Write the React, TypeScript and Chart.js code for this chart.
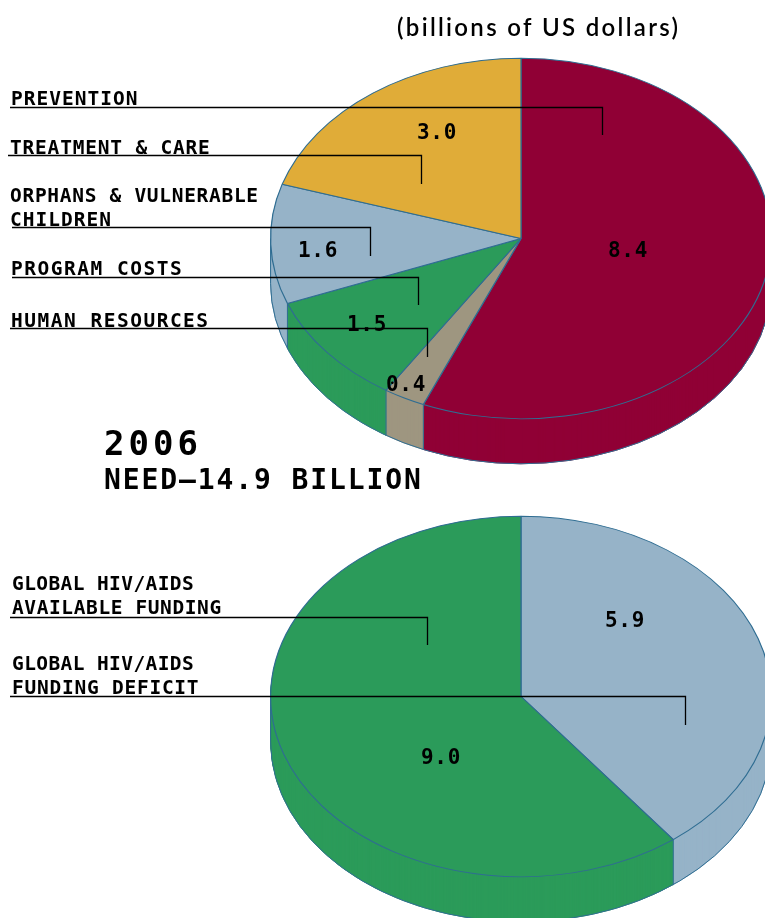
import React, { useEffect, useRef } from "react";
import { Chart, registerables } from "chart.js";

Chart.register(...registerables);

// ---- data ----
const needCategories = ["Prevention", "Human resources", "Program costs", "Orphans & vulnerable children", "Treatment & care"];
const needValues = [8.4, 0.4, 1.5, 1.6, 3.0];
const needLabels = ["8.4", "0.4", "1.5", "1.6", "3.0"];
const fundingCategories = ["Global HIV/AIDS funding deficit", "Global HIV/AIDS available funding"];
const fundingValues = [5.9, 9.0];
const fundingLabels = ["5.9", "9.0"];

// ---- styles ----
const needColors = ["#900035", "#9E9680", "#2B9B5A", "#96B3C8", "#E0AC38"];
const fundingColors = ["#96B3C8", "#2B9B5A"];
const EDGE = "#2F6D92";
const SQUASH = 180 / 250;
const DEPTH = 45;
const MONO = '"DejaVu Sans Mono"';

type Txt = { t: string; x: number; y: number; font: string; sp: number };
type Leader = [number, number, number, number];

const labelFont = `bold 19.5px ${MONO}`;
const valueFont = `bold 21px ${MONO}`;

const needTexts: Txt[] = [
  { t: "(billions of US dollars)", x: 397, y: 36, font: "600 24px Lato", sp: 2.3 },
  { t: "PREVENTION", x: 11, y: 105, font: labelFont, sp: 1.0 },
  { t: "TREATMENT & CARE", x: 10, y: 154, font: labelFont, sp: 0.8 },
  { t: "ORPHANS & VULNERABLE", x: 10, y: 202, font: labelFont, sp: 0.7 },
  { t: "CHILDREN", x: 10, y: 226, font: labelFont, sp: 1.0 },
  { t: "PROGRAM COSTS", x: 11, y: 275, font: labelFont, sp: 1.5 },
  { t: "HUMAN RESOURCES", x: 11, y: 327, font: labelFont, sp: 1.5 },
  { t: "2006", x: 104, y: 455, font: `bold 34px ${MONO}`, sp: 4 },
  { t: "NEED\u201414.9 BILLION", x: 104, y: 489, font: `bold 28px ${MONO}`, sp: 1.9 },
];
const needValuePos = [[608, 257], [386, 391], [347, 331], [298, 257], [417, 139]];
const needLeaders: Leader[] = [
  [10, 107.5, 602, 135],
  [8, 155.5, 421, 184],
  [12, 227.5, 370, 256],
  [12, 277.5, 418, 305],
  [10, 328.5, 427, 357],
];

const fundingTexts: Txt[] = [
  { t: "GLOBAL HIV/AIDS", x: 12, y: 590, font: labelFont, sp: 0.4 },
  { t: "AVAILABLE FUNDING", x: 12, y: 614, font: labelFont, sp: 0.6 },
  { t: "GLOBAL HIV/AIDS", x: 12, y: 670, font: labelFont, sp: 0.4 },
  { t: "FUNDING DEFICIT", x: 12, y: 694, font: labelFont, sp: 0.75 },
];
const fundingValuePos = [[605, 627], [421, 764]];
const fundingLeaders: Leader[] = [
  [10, 617.5, 427, 645],
  [10, 696.5, 685, 725],
];

function pie3d(pageTop: number, texts: Txt[], valueLabels: string[], valuePos: number[][], leaders: Leader[]) {
  return {
    id: "pie3d",
    beforeDatasetsDraw(chart: any) {
      const { ctx } = chart;
      const arcs = chart.getDatasetMeta(0).data;
      const cx = arcs[0].x;
      const cy = arcs[0].y;
      const R = arcs[0].outerRadius;
      ctx.save();
      ctx.translate(0, cy);
      ctx.scale(1, SQUASH);
      ctx.translate(0, -cy);
      for (let d = DEPTH; d >= 1; d -= 1) {
        for (const el of arcs) {
          const copy = Object.create(el);
          copy.options = { ...el.options, borderWidth: 1, borderColor: el.options.backgroundColor };
          ctx.save();
          ctx.translate(0, d / SQUASH);
          copy.draw(ctx);
          ctx.restore();
        }
      }
      ctx.restore();
      // side edges: lower rim, plus a vertical edge for each slice boundary facing the viewer
      ctx.save();
      ctx.strokeStyle = EDGE;
      ctx.lineWidth = 1;
      ctx.beginPath();
      ctx.ellipse(cx, cy + DEPTH, R, R * SQUASH, 0, 0, Math.PI);
      ctx.stroke();
      const edges = arcs.map((el: any) => el.startAngle).concat([0, Math.PI]);
      for (const a of edges) {
        if (Math.sin(a) < -1e-6) continue;
        const x = cx + R * Math.cos(a);
        const y = cy + R * SQUASH * Math.sin(a);
        ctx.beginPath();
        ctx.moveTo(x, y);
        ctx.lineTo(x, y + DEPTH);
        ctx.stroke();
      }
      ctx.restore();
      // squash the top face
      ctx.save();
      ctx.translate(0, cy);
      ctx.scale(1, SQUASH);
      ctx.translate(0, -cy);
    },
    afterDatasetsDraw(chart: any) {
      const { ctx } = chart;
      ctx.restore();
      ctx.save();
      ctx.translate(0, -pageTop);
      ctx.strokeStyle = "#000";
      ctx.lineWidth = 1.3;
      for (const [x0, y0, x1, y1] of leaders) {
        ctx.beginPath();
        ctx.moveTo(x0, y0);
        ctx.lineTo(x1 + 0.5, y0);
        ctx.lineTo(x1 + 0.5, y1);
        ctx.stroke();
      }
      ctx.fillStyle = "#000";
      ctx.textAlign = "left";
      ctx.textBaseline = "alphabetic";
      for (const s of texts) {
        ctx.font = s.font;
        (ctx as any).letterSpacing = `${s.sp}px`;
        ctx.fillText(s.t, s.x, s.y);
      }
      ctx.font = valueFont;
      (ctx as any).letterSpacing = "0.7px";
      valueLabels.forEach((v, i) => ctx.fillText(v, valuePos[i][0], valuePos[i][1]));
      ctx.restore();
    },
  };
}

function makePie(canvas: HTMLCanvasElement, labels: string[], values: number[], colors: string[], bottomPad: number, plugin: any) {
  return new Chart(canvas, {
    type: "pie",
    data: {
      labels,
      datasets: [{ data: values, backgroundColor: colors, borderColor: EDGE, borderWidth: 1.2, clip: false } as any],
    },
    options: {
      responsive: false,
      animation: false,
      devicePixelRatio: 1,
      layout: { padding: { left: 270, right: 0, top: 0.5, bottom: bottomPad } },
      plugins: { legend: { display: false }, tooltip: { enabled: false }, title: { display: false } },
    },
    plugins: [plugin],
  } as any);
}

export default function App() {
  const topRef = useRef<HTMLCanvasElement>(null);
  const bottomRef = useRef<HTMLCanvasElement>(null);
  useEffect(() => {
    const a = makePie(topRef.current!, needCategories, needValues, needColors, 28.5,
      pie3d(-13, needTexts, needLabels, needValuePos, needLeaders));
    const b = makePie(bottomRef.current!, fundingCategories, fundingValues, fundingColors, 0.5,
      pie3d(445, fundingTexts, fundingLabels, fundingValuePos, fundingLeaders));
    return () => {
      a.destroy();
      b.destroy();
    };
  }, []);
  return (
    <div style={{ position: "absolute", left: 0, top: 0, width: 765, height: 918, overflow: "hidden", background: "#fff" }}>
      <canvas ref={topRef} width={772} height={531} style={{ position: "absolute", left: 0, top: -13, width: 772, height: 531 }} />
      <canvas ref={bottomRef} width={772} height={503} style={{ position: "absolute", left: 0, top: 445, width: 772, height: 503 }} />
    </div>
  );
}
